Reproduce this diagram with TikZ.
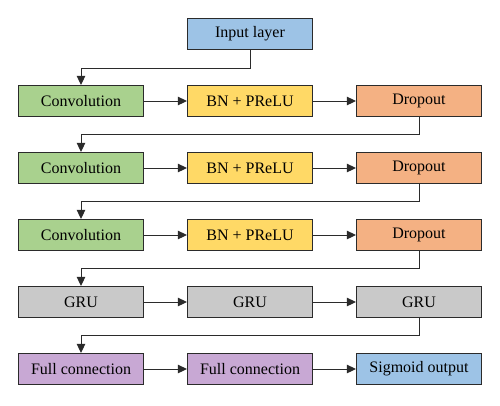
\documentclass[tikz,border=0pt]{standalone}
\usepackage{fontspec}
\setmainfont{Liberation Serif}
\usetikzlibrary{positioning,arrows.meta}

\definecolor{inblue}{HTML}{9DC3E6}
\definecolor{convgreen}{HTML}{A9D18E}
\definecolor{bnyellow}{HTML}{FFD966}
\definecolor{droporange}{HTML}{F4B183}
\definecolor{grugray}{HTML}{C9C9C9}
\definecolor{fcpurple}{HTML}{C8A8D4}
\definecolor{edge}{HTML}{2B2B2B}

\begin{document}
\begin{tikzpicture}[
    x=1pt, y=1pt,
    node distance=34.8pt and 42.8pt,
    every node/.style={font=\fontsize{16}{19}\selectfont, align=center},
    box/.style={rectangle, draw=edge, line width=1.2pt, minimum width=125pt, minimum height=31pt, inner sep=0pt},
    link/.style={draw=edge, line width=1pt, -{Triangle[length=9pt,width=8.5pt]}}
]
\useasboundingbox (0,0) rectangle (500,-405);

% Input
\node[box, fill=inblue] (input) at (250,-34) {Input layer};

% First convolution block
\node[box, fill=bnyellow, below=of input] (bn1) {BN + PReLU};
\node[box, fill=convgreen, left=of bn1] (conv1) {Convolution};
\node[box, fill=droporange, right=of bn1] (drop1) {Dropout};

% Second convolution block
\node[box, fill=convgreen, below=of conv1] (conv2) {Convolution};
\node[box, fill=bnyellow, right=of conv2] (bn2) {BN + PReLU};
\node[box, fill=droporange, right=of bn2] (drop2) {Dropout};

% Third convolution block
\node[box, fill=convgreen, below=of conv2] (conv3) {Convolution};
\node[box, fill=bnyellow, right=of conv3] (bn3) {BN + PReLU};
\node[box, fill=droporange, right=of bn3] (drop3) {Dropout};

% GRU layers
\node[box, fill=grugray, below=of conv3] (gru1) {GRU};
\node[box, fill=grugray, right=of gru1] (gru2) {GRU};
\node[box, fill=grugray, right=of gru2] (gru3) {GRU};

% Output head
\node[box, fill=fcpurple, below=of gru1] (fc1) {Full connection};
\node[box, fill=fcpurple, right=of fc1] (fc2) {Full connection};
\node[box, fill=inblue, right=of fc2] (out) {Sigmoid output};

% Arrows
\draw[link] (input.south) -- ++(0,-18) -| (conv1.north);
\draw[link] (conv1) -- (bn1);
\draw[link] (bn1) -- (drop1);
\draw[link] (drop1.south) -- ++(0,-17.5) -| (conv2.north);
\draw[link] (conv2) -- (bn2);
\draw[link] (bn2) -- (drop2);
\draw[link] (drop2.south) -- ++(0,-17.5) -| (conv3.north);
\draw[link] (conv3) -- (bn3);
\draw[link] (bn3) -- (drop3);
\draw[link] (drop3.south) -- ++(0,-17.5) -| (gru1.north);
\draw[link] (gru1) -- (gru2);
\draw[link] (gru2) -- (gru3);
\draw[link] (gru3.south) -- ++(0,-17.5) -| (fc1.north);
\draw[link] (fc1) -- (fc2);
\draw[link] (fc2) -- (out);

\end{tikzpicture}
\end{document}
